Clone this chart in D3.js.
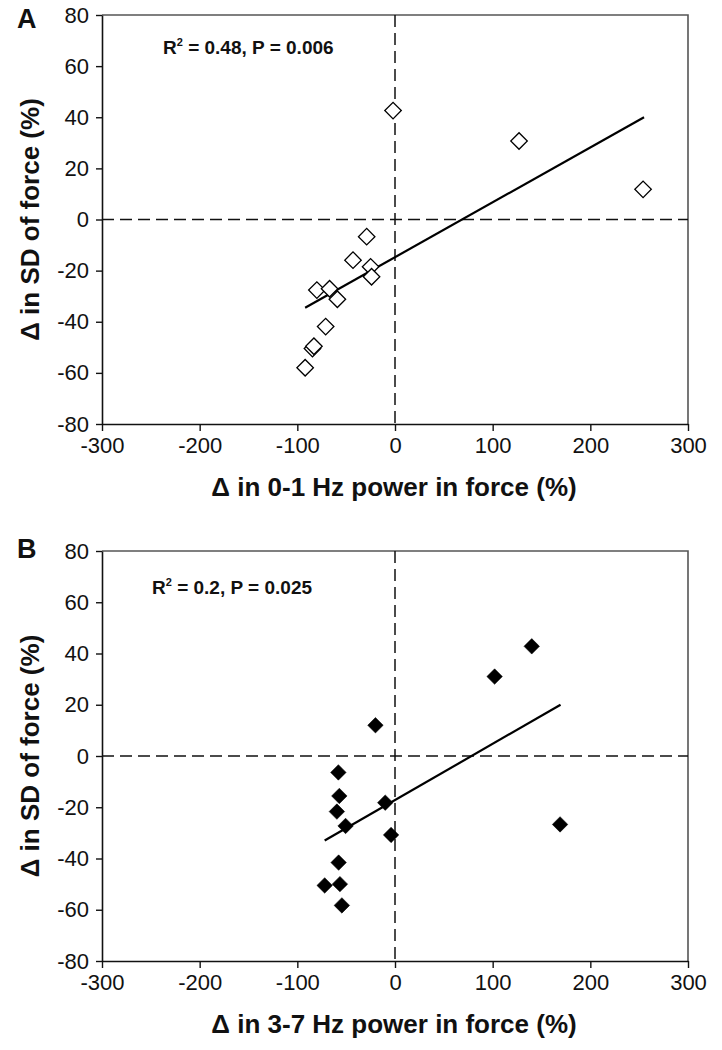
<!DOCTYPE html>
<html><head><meta charset="utf-8">
<script src="https://cdn.jsdelivr.net/npm/d3@7"></script>
<style>
html,body{margin:0;padding:0;background:#fff;}
svg text{font-family:"Liberation Sans",Arial,Helvetica,sans-serif;}
</style></head>
<body><svg id="c" width="722" height="1050"></svg>
<script>
// ---- data ----
const xTicks = [-300, -200, -100, 0, 100, 200, 300];
const yTicks = [-80, -60, -40, -20, 0, 20, 40, 60, 80];

const aX = [-2, 127, 254, -29, -43, -25, -24, -80, -67, -59, -71, -84.5, -83, -92];
const aY = [42.6, 30.7, 11.8, -6.7, -15.9, -18.5, -22.4, -27.6, -27.1, -31.2, -41.9, -50.5, -49.6, -58];
const aFitX = [-92, 255];
const aFitY = [-34.5, 40];

const bX = [140, 102, -20, -58, -57, -59.5, -10, -50.6, -4, 169, -57.7, -72, -56.4, -54.4];
const bY = [42.8, 31, 12, -6.4, -15.6, -21.7, -18.2, -27.3, -30.8, -26.7, -41.6, -50.5, -50, -58.3];
const bFitX = [-72, 169.5];
const bFitY = [-33, 20];

const panelLetters = ["A", "B"];
const statLabels = [["0.48", "0.006"], ["0.2", "0.025"]];
const xTitles = ["\u0394 in 0-1 Hz power in force (%)", "\u0394 in 3-7 Hz power in force (%)"];
const yTitle = "\u0394 in SD of force (%)";

// ---- layout ----
const svg = d3.select("#c");
const panels = [
  {top: 15, bottom: 424, xs: aX, ys: aY, fx: aFitX, fy: aFitY, filled: false, statX: 163, statY: 54},
  {top: 551, bottom: 961, xs: bX, ys: bY, fx: bFitX, fy: bFitY, filled: true, statX: 152, statY: 594}
];
const left = 102, right = 688;
const fmt = d => String(d); // plain hyphen minus as in the original

panels.forEach((p, i) => {
  const g = svg.append("g");
  const x = d3.scaleLinear().domain([-300, 300]).range([left, right]);
  const y = d3.scaleLinear().domain([-80, 80]).range([p.bottom, p.top]);

  // frame top/right
  g.append("path")
    .attr("d", `M${left},${p.top}H${right}V${p.bottom}`)
    .attr("fill", "none").attr("stroke", "#555").attr("stroke-width", 1.6);

  // reference dashed lines
  g.append("line").attr("x1", x(0)).attr("x2", x(0)).attr("y1", p.top).attr("y2", p.bottom)
    .attr("stroke", "#111").attr("stroke-width", 1.5).attr("stroke-dasharray", "12,6");
  g.append("line").attr("x1", left).attr("x2", right).attr("y1", y(0)).attr("y2", y(0))
    .attr("stroke", "#111").attr("stroke-width", 1.5).attr("stroke-dasharray", "12,6");

  // axes
  const xa = g.append("g").attr("transform", `translate(0,${p.bottom})`)
    .call(d3.axisBottom(x).tickValues(xTicks).tickSize(7).tickPadding(6).tickFormat(fmt).tickSizeOuter(0));
  const ya = g.append("g").attr("transform", `translate(${left},0)`)
    .call(d3.axisLeft(y).tickValues(yTicks).tickSize(6).tickPadding(7).tickFormat(fmt).tickSizeOuter(0));
  [xa, ya].forEach(a => {
    a.select(".domain").attr("stroke", "#111").attr("stroke-width", 1.6);
    a.selectAll(".tick line").attr("stroke", "#111").attr("stroke-width", 1.4);
    a.selectAll("text").attr("font-size", 22).attr("fill", "#111")
      .style("font-family", '"Liberation Sans",Arial,sans-serif');
  });
  xa.selectAll("text").attr("dy", "0.72em");

  // fit line
  g.append("line")
    .attr("x1", x(p.fx[0])).attr("y1", y(p.fy[0]))
    .attr("x2", x(p.fx[1])).attr("y2", y(p.fy[1]))
    .attr("stroke", "#000").attr("stroke-width", 2.2);

  // points (diamonds)
  const sym = d3.symbol().type(d3.symbolSquare).size(p.filled ? 120 : 136);
  g.selectAll("path.pt").data(p.xs.map((v, k) => [v, p.ys[k]])).join("path")
    .attr("class", "pt")
    .attr("d", sym)
    .attr("transform", d => `translate(${x(d[0])},${y(d[1])}) rotate(45)`)
    .attr("fill", p.filled ? "#000" : "#fff")
    .attr("stroke", "#000").attr("stroke-width", p.filled ? 0.5 : 1.3);

  // stat text
  const t = g.append("text").attr("x", p.statX).attr("y", p.statY)
    .attr("font-size", 19).attr("font-weight", "bold").attr("fill", "#111");
  t.append("tspan").text("R");
  t.append("tspan").text("2").attr("font-size", 11).attr("dy", -8);
  t.append("tspan").text(` = ${statLabels[i][0]}, P = ${statLabels[i][1]}`).attr("dy", 8);

  // panel letter
  g.append("text").attr("x", 17).attr("y", p.top + 13 + (i === 1 ? -6 : 0))
    .attr("font-size", 27).attr("font-weight", "bold").attr("fill", "#111")
    .text(panelLetters[i]);

  // axis titles
  g.append("text").attr("x", (left + right) / 2 - 1).attr("y", p.bottom + 72)
    .attr("text-anchor", "middle").attr("font-size", 26).attr("font-weight", "bold").attr("fill", "#111")
    .text(xTitles[i]);
  g.append("text")
    .attr("transform", `translate(39,${(p.top + p.bottom) / 2}) rotate(-90)`)
    .attr("text-anchor", "middle").attr("font-size", 26).attr("font-weight", "bold").attr("fill", "#111")
    .text(yTitle);
});
</script></body></html>
